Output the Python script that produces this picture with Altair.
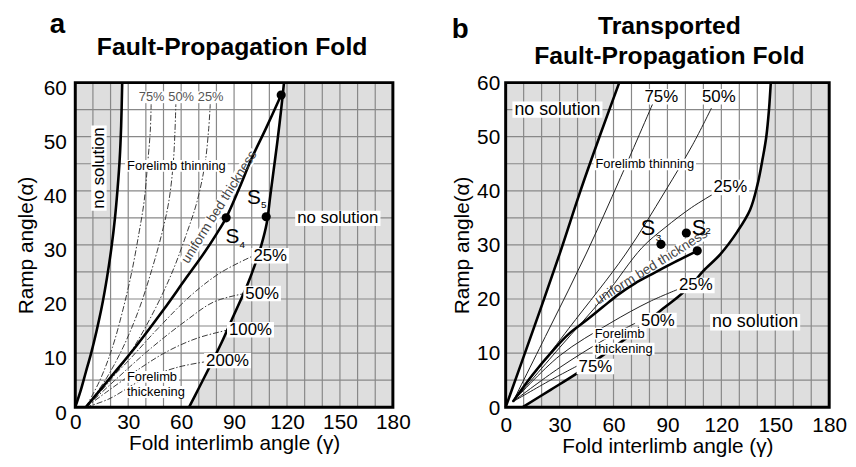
import altair as alt
import pandas as pd

FONT = "Liberation Sans"
BG = "#dedede"
GRID = "#888888"
INTERP = "catmull-rom"

X_TICKS = [0, 30, 60, 90, 120, 150, 180]
Y_TICKS = [0, 10, 20, 30, 40, 50, 60]
GRID_X = [10, 20, 30, 40, 50, 60, 70, 80, 90, 100, 110, 120, 130, 140, 150, 160, 170]
GRID_Y = [5, 10, 15, 20, 25, 30, 35, 40, 45, 50, 55]

# ---------------- panel a : Fault-Propagation Fold ----------------
A_LEFT_G = [0, 3, 6, 9, 12, 15, 18, 20.5, 22.5, 24, 25.2, 26, 26.6]
A_LEFT_A = [0, 3, 6.5, 10, 14, 18.5, 24, 29.5, 35, 40.5, 46, 52, 60]
A_RIGHT_G = [64.5, 70, 77, 83, 89, 94, 98, 102, 105.5, 108.5, 110.5, 112.5, 114.5, 116.5, 118.3]
A_RIGHT_A = [0, 3.5, 8, 12, 16.4, 20, 23, 26.5, 30, 34, 39, 44, 49, 54.5, 60]
A_UNI_G = [6, 20, 35, 50, 62, 73, 80, 85.5, 93, 100, 108, 116.7]
A_UNI_A = [0, 5.5, 11.5, 18, 23.5, 28.5, 32, 35, 40.5, 46, 51.5, 57.7]
A_T75_G = [6, 14, 21, 27, 32, 36, 39, 41, 42.5, 43]
A_T75_A = [0, 5, 11, 18, 25, 32, 38, 45, 51, 56]
A_T50_G = [6, 17, 27, 36, 43, 49, 53, 55.5, 56.5, 57]
A_T50_A = [0, 5, 11, 18, 25, 32, 38, 45, 51, 56]
A_T25_G = [6, 20, 33, 45, 55, 63, 69, 73.5, 75.5, 76.5]
A_T25_A = [0, 5, 11, 18, 25, 32, 38, 45, 51, 56]
A_K25_G = [6, 13.4, 28.4, 47, 65.7, 82.5, 101]
A_K25_A = [0, 3.1, 8, 14.6, 20.7, 24.9, 28]
A_K50_G = [6, 24.6, 43.3, 62, 78.8, 96]
A_K50_A = [0, 5.6, 11, 15.8, 19.5, 21]
A_K100_G = [6, 19, 37.7, 52.7, 69.5, 87]
A_K100_A = [0, 3.1, 7.4, 10.4, 12.8, 14.3]
A_K200_G = [6, 19, 37.7, 58.3, 74]
A_K200_A = [0, 1.5, 5, 7.4, 8.4]
A_DOT_G = [116.7, 85.5, 108.2]
A_DOT_A = [57.7, 35, 35.2]
A_LAB_T = ["75%", "50%", "25%", "Forelimb thinning", "no solution", "uniform bed thickness",
           "no solution", "25%", "50%", "100%", "200%", "Forelimb", "thickening"]
A_LAB_G = [43.3, 60, 76.7, 57.3, 13.4, 81.6, 148.8, 110.5, 105.9, 99.3, 86.3, 29.3, 29.3]
A_LAB_A = [57.3, 57.3, 57.3, 44.6, 44.2, 37, 34.9, 28, 21, 14.3, 8.6, 5.6, 2.8]
A_S_T = ["S", "S"]
A_S_G = [101.2, 89.1]
A_S_A = [38.7, 31.5]
A_SUB_T = ["5", "4"]
A_SUB_G = [106.8, 94.7]
A_SUB_A = [37.3, 30]
A_TITLE = ["Fault-Propagation Fold"]

# ---------------- panel b : Transported Fault-Propagation Fold ----------------
B_LEFT_G = [0, 15, 30, 41, 52, 63.2]
B_LEFT_A = [0, 14, 28.3, 39.4, 49.8, 60]
B_RIGHT_G = [9.5, 25, 39, 55, 70, 88.7, 96, 103, 110, 119.5, 129, 136, 140, 143, 145, 146.5, 147.5]
B_RIGHT_A = [0, 3.2, 6.1, 9.8, 13.5, 18.5, 20.4, 22.5, 25.2, 28.3, 32.5, 36.5, 41, 46, 50, 55, 60]
B_UNI_G = [4, 15, 26.4, 35, 44.7, 54, 63, 72, 81.4, 94, 106.6]
B_UNI_A = [1, 6, 10.5, 13.5, 16, 18.5, 20.9, 22.9, 24.6, 26.8, 28.9]
B_T75_G = [4, 25, 44.7, 64, 83]
B_T75_A = [1, 15, 28.3, 42.5, 57]
B_T50_G = [4, 35, 66.7, 88.7, 104, 114.5]
B_T50_A = [1, 14.5, 28.3, 39.9, 48.5, 55.3]
B_T25_G = [4, 30, 55, 75.9, 88.7, 103.4, 116]
B_T25_A = [1, 11, 20.5, 29.5, 33.2, 36.9, 39.5]
B_K25_G = [4, 30, 58, 80, 96]
B_K25_A = [1, 9.5, 15.5, 19.5, 21.8]
B_K50_G = [4, 30, 55, 72]
B_K50_A = [1, 7.3, 12.5, 15.5]
B_K75_G = [4, 25, 42]
B_K75_A = [1, 5, 8]
B_DOT_G = [86.4, 100.5, 106.6]
B_DOT_A = [30.1, 32.2, 28.9]
B_LAB_T = ["no solution", "75%", "50%", "Forelimb thinning", "25%", "uniform bed thickness",
           "25%", "50%", "no solution", "Forelimb", "thickening", "75%"]
B_LAB_G = [28.8, 86.6, 118.6, 77.4, 125, 81, 105.8, 84.7, 138.8, 49.5, 49.5, 49.9]
B_LAB_A = [55, 57.4, 57.4, 44.9, 40.6, 25.9, 22.5, 16, 15.7, 13.6, 10.8, 7.5]
B_S_T = ["S", "S"]
B_S_G = [79.2, 107.6]
B_S_A = [33.2, 33.2]
B_SUB_T = ["3", "2"]
B_SUB_G = [85, 112.6]
B_SUB_A = [31.2, 32.6]
B_TITLE = ["Transported", "Fault-Propagation Fold"]

CHAR_W = {" ": 278, "%": 889, "F": 611, "S": 667, "a": 556, "b": 556, "c": 500, "d": 556,
          "e": 556, "f": 278, "g": 556, "h": 556, "i": 222, "k": 500, "l": 222, "m": 833,
          "n": 556, "o": 556, "r": 333, "s": 500, "t": 278, "u": 556}


def text_w(s, size):
    return sum(CHAR_W.get(c, 556) for c in s) / 1000.0 * size


def box_shape(w, h):
    r = max(w, h) / 2.0
    hw, hh = w / 2.0 / r, h / 2.0 / r
    return f"M{-hw:.4f},{-hh:.4f}H{hw:.4f}V{hh:.4f}H{-hw:.4f}Z", (2 * r) ** 2


THICK = dict(color="black", strokeWidth=2.6)
DASHDOT = dict(color="#3a3a3a", strokeWidth=1, strokeDash=[6, 2, 1.5, 2])
THIN = dict(color="#1e1e1e", strokeWidth=1)


def panel(cfg):
    ax_x = alt.Axis(values=X_TICKS, title="Fold interlimb angle (γ)", grid=False, ticks=False,
                    domain=False, labelPadding=cfg["lpx"], titlePadding=cfg["tpx"], labelFlush=False)
    ax_y = alt.Axis(values=Y_TICKS, title="Ramp angle(α)", grid=False, ticks=False,
                    domain=False, labelPadding=cfg["lpy"], titlePadding=cfg["tpy"],
                    labelOffset=cfg["loy"], labelFlush=False)
    xs = alt.Scale(domain=[0, 180], nice=False, zero=False)
    ys = alt.Scale(domain=[0, 60], nice=False, zero=False)

    def X(f):
        return alt.X(f, type="quantitative", scale=xs, axis=ax_x)

    def Y(f):
        return alt.Y(f, type="quantitative", scale=ys, axis=ax_y)

    layers = []
    right = pd.DataFrame({"g": cfg["right"][0], "a": cfg["right"][1]})
    left = pd.DataFrame({"g": cfg["left"][0], "a": cfg["left"][1]})
    layers.append(alt.Chart(right).mark_area(orient="horizontal", interpolate=INTERP, color="white",
                                             opacity=1).encode(y=Y("a"), x=X("g"), x2=alt.datum(0)))
    layers.append(alt.Chart(left).mark_area(orient="horizontal", interpolate=INTERP, color=BG,
                                            opacity=1).encode(y=Y("a"), x=X("g"), x2=alt.datum(0)))
    layers.append(alt.Chart(pd.DataFrame({"g": GRID_X})).mark_rule(color=GRID, strokeWidth=1.2)
                  .encode(x=X("g"), y=alt.datum(0), y2=alt.datum(60)))
    layers.append(alt.Chart(pd.DataFrame({"a": GRID_Y})).mark_rule(color=GRID, strokeWidth=1.2)
                  .encode(y=Y("a"), x=alt.datum(0), x2=alt.datum(180)))

    for style, curves in cfg["curves"]:
        frames = []
        for name, g, a in curves:
            frames.append(pd.DataFrame({"curve": name, "g": g, "a": a, "o": list(range(len(g)))}))
        df = pd.concat(frames, ignore_index=True)
        layers.append(alt.Chart(df).mark_line(interpolate=INTERP, **style)
                      .encode(x=X("g"), y=Y("a"), detail="curve:N", order="o:Q"))

    # white boxes behind the rotated "uniform bed thickness" labels go under the curves
    label_layers = []
    for t, g, a, st in zip(cfg["lab_t"], cfg["lab_g"], cfg["lab_a"], cfg["lab_style"]):
        size = st.get("size", 17)
        angle = st.get("angle", 0)
        align = st.get("align", "center")
        df = pd.DataFrame({"t": [t], "g": [g], "a": [a]})
        base = alt.Chart(df).encode(x=X("g"), y=Y("a"))
        w = text_w(t, size) + 4
        h = size * 0.92
        path, sz = box_shape(w, h)
        box = base.mark_point(shape=path, size=sz, filled=True, fill="white",
                              strokeWidth=0, opacity=1, angle=angle,
                              xOffset=(w / 2 - 2) if align == "left" else 0)
        if st.get("under", False):
            layers.insert(4, box)
        else:
            label_layers.append(box)
        label_layers.append(base.mark_text(font=FONT, fontSize=size, angle=angle, align=align,
                                           baseline="middle", color=st.get("color", "black"))
                            .encode(text="t:N"))
    layers.extend(label_layers)

    sdf = pd.DataFrame({"t": cfg["s"][0], "g": cfg["s"][1], "a": cfg["s"][2]})
    layers.append(alt.Chart(sdf).mark_text(font=FONT, fontSize=cfg["s_size"], baseline="middle")
                  .encode(x=X("g"), y=Y("a"), text="t:N"))
    subdf = pd.DataFrame({"t": cfg["sub"][0], "g": cfg["sub"][1], "a": cfg["sub"][2]})
    layers.append(alt.Chart(subdf).mark_text(font=FONT, fontSize=10, baseline="middle")
                  .encode(x=X("g"), y=Y("a"), text="t:N"))

    ddf = pd.DataFrame({"g": cfg["dots"][0], "a": cfg["dots"][1]})
    layers.append(alt.Chart(ddf).mark_circle(size=85, color="black", opacity=1)
                  .encode(x=X("g"), y=Y("a")))

    layers.append(alt.Chart(pd.DataFrame({"k": [0]})).mark_rect(fill="white", fillOpacity=0,
                                                                 stroke="black", strokeWidth=3)
                  .encode(x=alt.datum(0), x2=alt.datum(180), y=alt.datum(0), y2=alt.datum(60)))

    # panel letter and title (placed in pixels above the plot area)
    layers.append(alt.Chart(pd.DataFrame({"k": [0]})).mark_text(
        text=cfg["letter"], font=FONT, fontSize=28, fontWeight="bold", baseline="alphabetic")
        .encode(x=alt.value(cfg["letter_xy"][0]), y=alt.value(cfg["letter_xy"][1])))
    for line, yb in zip(cfg["title"], cfg["title_y"]):
        layers.append(alt.Chart(pd.DataFrame({"t": [line]})).mark_text(
            font=FONT, fontSize=25, fontWeight="bold", baseline="alphabetic", align="center")
            .encode(text="t:N", x=alt.value(cfg["w"] / 2 + cfg["title_dx"]), y=alt.value(yb)))

    return alt.layer(*layers).properties(width=cfg["w"], height=cfg["h"])


A_STYLE = [dict(size=13, color="#555555"), dict(size=13, color="#555555"), dict(size=13, color="#555555"),
           dict(size=13), dict(size=17, angle=270),
           dict(size=13.5, angle=302, color="#444444", under=True),
           dict(size=17), dict(size=17), dict(size=17), dict(size=17), dict(size=17),
           dict(size=13, align="left"), dict(size=13, align="left")]
B_STYLE = [dict(size=18), dict(size=17), dict(size=17), dict(size=13), dict(size=17),
           dict(size=13.5, angle=328, color="#444444", under=True),
           dict(size=17), dict(size=17), dict(size=18), dict(size=13, align="left"),
           dict(size=13, align="left"), dict(size=17)]

cfg_a = dict(
    w=321, h=328, lpx=5, tpx=0, lpy=9, tpy=7, loy=6,
    title=A_TITLE, title_y=[-28], title_dx=-2, letter="a", letter_xy=(-18, -50),
    left=(A_LEFT_G, A_LEFT_A), right=(A_RIGHT_G, A_RIGHT_A),
    curves=[
        (DASHDOT, [("t75", A_T75_G, A_T75_A), ("t50", A_T50_G, A_T50_A), ("t25", A_T25_G, A_T25_A),
                   ("k25", A_K25_G, A_K25_A), ("k50", A_K50_G, A_K50_A),
                   ("k100", A_K100_G, A_K100_A), ("k200", A_K200_G, A_K200_A)]),
        (THICK, [("left", A_LEFT_G, A_LEFT_A), ("right", A_RIGHT_G, A_RIGHT_A),
                 ("uni", A_UNI_G, A_UNI_A)]),
    ],
    lab_t=A_LAB_T, lab_g=A_LAB_G, lab_a=A_LAB_A, lab_style=A_STYLE,
    s=(A_S_T, A_S_G, A_S_A), sub=(A_SUB_T, A_SUB_G, A_SUB_A), s_size=21,
    dots=(A_DOT_G, A_DOT_A),
)
cfg_b = dict(
    w=327, h=328, lpx=8, tpx=0, lpy=6, tpy=4, loy=1,
    title=B_TITLE, title_y=[-49, -19], title_dx=2, letter="b", letter_xy=(-46, -45),
    left=(B_LEFT_G, B_LEFT_A), right=(B_RIGHT_G, B_RIGHT_A),
    curves=[
        (THIN, [("t75", B_T75_G, B_T75_A), ("t50", B_T50_G, B_T50_A), ("t25", B_T25_G, B_T25_A),
                ("k25", B_K25_G, B_K25_A), ("k50", B_K50_G, B_K50_A), ("k75", B_K75_G, B_K75_A)]),
        (THICK, [("left", B_LEFT_G, B_LEFT_A), ("right", B_RIGHT_G, B_RIGHT_A),
                 ("uni", B_UNI_G, B_UNI_A)]),
    ],
    lab_t=B_LAB_T, lab_g=B_LAB_G, lab_a=B_LAB_A, lab_style=B_STYLE,
    s=(B_S_T, B_S_G, B_S_A), sub=(B_SUB_T, B_SUB_G, B_SUB_A), s_size=22,
    dots=(B_DOT_G, B_DOT_A),
)

chart = alt.hconcat(panel(cfg_a), panel(cfg_b), spacing=39).properties(
    padding={"left": 7, "top": 0, "right": 0, "bottom": 0}
).configure_view(fill=BG, stroke="transparent").configure_axis(
    labelFont=FONT, titleFont=FONT, labelFontSize=21, titleFontSize=21,
    titleFontWeight="normal", labelColor="black", titleColor="black"
)

chart.save("out.html", embed_options={"renderer": "svg", "actions": False})
